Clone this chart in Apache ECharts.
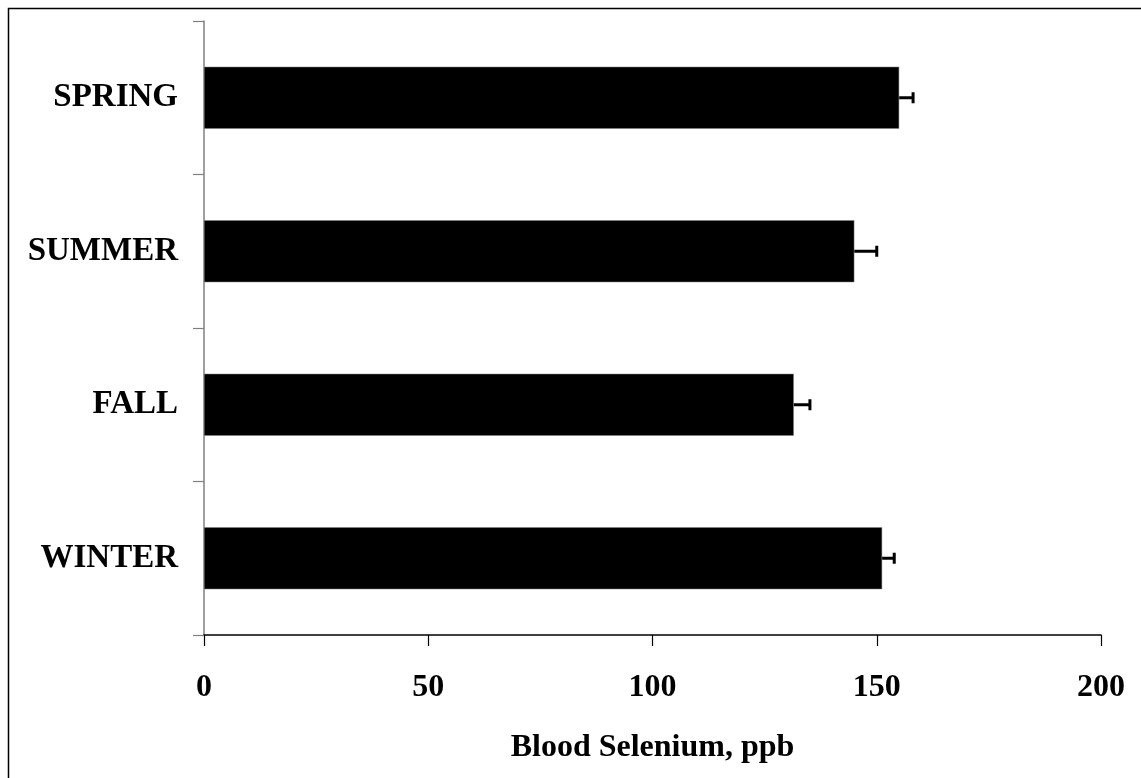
<!DOCTYPE html>
<html>
<head>
<meta charset="utf-8">
<script src="https://cdn.jsdelivr.net/npm/echarts@6/dist/echarts.min.js"></script>
<style>html,body{margin:0;padding:0;background:#fff;}#c{width:1141px;height:778px;}</style>
</head>
<body>
<div id="c"></div>
<script>
var categories = ['SPRING', 'SUMMER', 'FALL', 'WINTER'];
var values = [155.0, 145.0, 131.5, 151.2];
var errors = [3.1, 5.0, 3.6, 2.7];
var xTicks = [0, 50, 100, 150, 200];
var axisTitle = 'Blood Selenium, ppb';

var chart = echarts.init(document.getElementById('c'));
var font = '"Liberation Serif", "Times New Roman", serif';
var errData = categories.map(function (c, i) { return [i, values[i], errors[i]]; });

chart.setOption({
  animation: false,
  backgroundColor: '#fff',
  graphic: [{
    type: 'rect',
    shape: { x: 8.5, y: 8.5, width: 1150, height: 800 },
    style: { fill: 'none', stroke: '#000', lineWidth: 1.5 },
    silent: true
  }],
  grid: { left: 204, right: 40, top: 21, bottom: 143, containLabel: false },
  xAxis: {
    type: 'value',
    min: xTicks[0], max: xTicks[xTicks.length - 1], interval: 50,
    splitLine: { show: false },
    axisLine: { show: true, lineStyle: { color: '#000', width: 1.5 } },
    axisTick: { show: true, inside: false, length: 11, lineStyle: { color: '#000', width: 1.2 } },
    axisLabel: { margin: 37, fontFamily: font, fontWeight: 'bold', fontSize: 32, color: '#000' },
    name: axisTitle,
    nameLocation: 'middle',
    nameGap: 97,
    nameTextStyle: { fontFamily: font, fontWeight: 'bold', fontSize: 32, color: '#000' }
  },
  yAxis: {
    type: 'category',
    data: categories,
    inverse: true,
    axisLine: { show: true, lineStyle: { color: '#808080', width: 1.5 } },
    axisTick: { show: true, inside: false, length: 11, lineStyle: { color: '#808080', width: 1.2 } },
    axisLabel: { margin: 26, fontFamily: font, fontWeight: 'bold', fontSize: 33, color: '#000' },
    splitLine: { show: false }
  },
  series: [{
    type: 'bar',
    data: values,
    barWidth: 62,
    itemStyle: { color: '#000', borderColor: '#808080', borderWidth: 0.5 },
    z: 2
  }, {
    type: 'custom',
    data: errData,
    z: 3,
    renderItem: function (params, api) {
      var idx = api.value(0);
      var v = api.value(1);
      var e = api.value(2);
      var p0 = api.coord([v, idx]);
      var p1 = api.coord([v + e, idx]);
      var half = 5.5;
      return {
        type: 'group',
        children: [{
          type: 'line',
          shape: { x1: p0[0], y1: p0[1], x2: p1[0], y2: p1[1] },
          style: { stroke: '#000', lineWidth: 3 }
        }, {
          type: 'line',
          shape: { x1: p1[0], y1: p1[1] - half, x2: p1[0], y2: p1[1] + half },
          style: { stroke: '#000', lineWidth: 3 }
        }]
      };
    }
  }]
});
</script>
</body>
</html>
